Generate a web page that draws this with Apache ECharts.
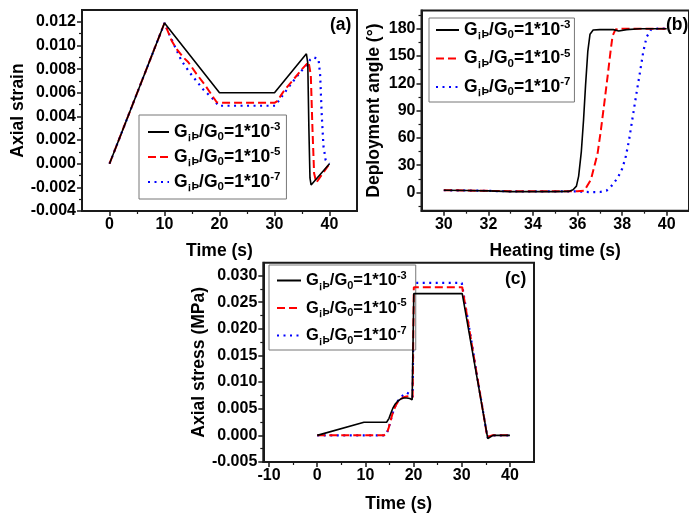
<!DOCTYPE html>
<html><head><meta charset="utf-8">
<script src="https://cdn.jsdelivr.net/npm/echarts@6/dist/echarts.min.js"></script>
<style>html,body{margin:0;padding:0;background:#fff}#c{width:689px;height:514px}</style>
</head><body><div id="c"></div>
<script>
// ---------- Panel (a): Axial strain vs Time ----------
const aT3 = [0, 10, 20, 30, 35.8, 36.05, 36.25, 36.45, 36.65, 40];
const aS3 = [0, 0.0119, 0.0060, 0.0060, 0.0093, 0.0085, 0.0030, -0.0012, -0.0018, 0.0000];
const aT5 = [0, 10, 11.3, 12.2, 13.4, 14.3, 15.8, 17.3, 18.9, 19.5, 20, 30, 30.5, 31.2, 31.7, 33.5, 35, 36.2, 36.4, 36.6, 36.9, 37.2, 37.6, 40];
const aS5 = [0, 0.0119, 0.0104, 0.0097, 0.0090, 0.0086, 0.0076, 0.0067, 0.0056, 0.0052, 0.00515, 0.00515, 0.0053, 0.0058, 0.00615, 0.00715, 0.0080, 0.0086, 0.0086, 0.0075, 0.0030, -0.0008, -0.0016, 0.0000];
const aT7 = [0, 10, 10.6, 11.3, 13.1, 14.6, 17.0, 19.2, 19.8, 30.1, 32.3, 34.1, 35.9, 36.5, 37.1, 38.0, 38.3, 38.6, 38.9, 39.3, 40];
const aS7 = [0, 0.0119, 0.0112, 0.0105, 0.0087, 0.0077, 0.0063, 0.0053, 0.0049, 0.0049, 0.0063, 0.0074, 0.0084, 0.0088, 0.0090, 0.00885, 0.0075, 0.0040, 0.0015, 0.0003, 0.0000];
const aXTicks = [0, 10, 20, 30, 40];
const aXMinor = [5, 15, 25, 35];
const aYTicks = [-0.004, -0.002, 0, 0.002, 0.004, 0.006, 0.008, 0.010, 0.012];
const aYMinor = [-0.003, -0.001, 0.001, 0.003, 0.005, 0.007, 0.009, 0.011];

// ---------- Panel (b): Deployment angle vs Heating time ----------
const bT3 = [30, 31, 32, 33, 34, 35, 35.6, 35.8, 35.95, 36.05, 36.17, 36.27, 36.36, 36.46, 36.56, 36.7, 37.0, 37.6, 37.85, 38.2, 38.8, 40];
const bA3 = [2.5, 2.2, 1.8, 1.0, 1.0, 1.0, 1.2, 3, 7, 18, 45, 80, 118, 155, 174, 178.5, 179, 179, 177.5, 179, 180, 180];
const bT5 = [30, 31, 32, 33, 34, 35, 36.0, 36.3, 36.6, 36.9, 37.05, 37.2, 37.35, 37.47, 37.57, 37.7, 38.0, 40];
const bA5 = [2.5, 2.2, 1.8, 1.5, 1.5, 1.5, 1.5, 2, 14, 43, 69, 98, 128, 153, 172, 179, 180, 180];
const bT7 = [30, 31, 32, 33, 34, 35, 36, 36.5, 37.0, 37.3, 37.5, 37.8, 38.0, 38.15, 38.3, 38.5, 38.65, 38.8, 38.95, 39.1, 39.3, 39.6, 40];
const bA7 = [2.5, 2.2, 1.8, 1.2, 1.2, 1.2, 1.2, 0.5, 0.5, 2, 6.5, 16, 26, 38, 56, 87, 110, 132, 155, 171, 179, 180, 180];
const bXTicks = [30, 32, 34, 36, 38, 40];
const bXMinor = [31, 33, 35, 37, 39];
const bYTicks = [0, 30, 60, 90, 120, 150, 180];
const bYMinor = [-15, 15, 45, 75, 105, 135, 165, 195];

// ---------- Panel (c): Axial stress vs Time ----------
const cT3 = [0, 9.7, 14.4, 14.9, 15.3, 15.7, 16.2, 16.7, 17.3, 17.9, 18.6, 19.2, 19.7, 20.0, 20.05, 30.1, 35.4, 35.8, 36.5, 40];
const cS3 = [0, 0.00246, 0.00246, 0.0032, 0.0042, 0.0051, 0.0059, 0.0064, 0.0068, 0.0070, 0.0070, 0.0069, 0.0067, 0.0064, 0.0266, 0.0266, -0.0006, -0.0004, 0.0000, 0.0000];
const cT5 = [0, 13.8, 14.4, 14.8, 15.2, 15.5, 15.9, 16.3, 16.7, 17.2, 17.8, 18.5, 19.2, 19.8, 20.0, 20.05, 30.1, 35.3, 35.6, 36.3, 40];
const cS5 = [0, 0, 0.0003, 0.0013, 0.0026, 0.0037, 0.0048, 0.0056, 0.0062, 0.0067, 0.0071, 0.0073, 0.0074, 0.0071, 0.0070, 0.0278, 0.0278, -0.0003, -0.0005, 0.0000, 0.0000];
const cT7 = [0, 13.8, 14.4, 14.8, 15.2, 15.5, 15.9, 16.3, 16.7, 17.2, 17.8, 18.6, 19.2, 19.8, 20.0, 20.05, 30.0, 35.3, 35.6, 36.3, 40];
const cS7 = [0, 0, 0.0003, 0.0013, 0.0026, 0.0037, 0.0048, 0.0057, 0.0064, 0.0070, 0.0075, 0.0080, 0.0077, 0.0072, 0.0070, 0.0286, 0.0286, -0.0003, -0.0005, 0.0000, 0.0000];
const cXTicks = [-10, 0, 10, 20, 30, 40];
const cXMinor = [-5, 5, 15, 25, 35];
const cYTicks = [-0.005, 0, 0.005, 0.010, 0.015, 0.020, 0.025, 0.030];
const cYMinor = [-0.0025, 0.0025, 0.0075, 0.0125, 0.0175, 0.0225, 0.0275];

const legendExp = ['-3', '-5', '-7'];

// ---------- Styles ----------
const FONT = "'Liberation Sans', Arial, sans-serif";
const AX = '#1a1a1a';
const styles = [
  {color: '#000000', width: 1.6, type: 'solid'},
  {color: '#ff0000', width: 2, type: [8, 4]},
  {color: '#0000ff', width: 2.2, type: [2, 4.5]}
];

function axes(dim, gi, min, max, ticks, minor, fmt, name, gap) {
  const pos = dim === 'x' ? 'bottom' : 'left';
  const main = {
    type: 'value', gridIndex: gi, min: min, max: max, position: pos, offset: 0,
    axisLine: {show: true, onZero: false, lineStyle: {color: AX, width: 2}},
    axisTick: {show: true, inside: false, length: 5, lineStyle: {color: AX, width: 1.5}, customValues: ticks},
    axisLabel: {show: true, customValues: ticks, formatter: fmt, color: '#000', fontSize: 16,
      fontWeight: 'bold', fontFamily: FONT, margin: 6},
    splitLine: {show: false},
    name: name, nameLocation: 'middle', nameGap: gap,
    nameTextStyle: {fontSize: 17.5, fontWeight: 'bold', fontFamily: FONT, color: '#000'}
  };
  const mn = {
    type: 'value', gridIndex: gi, min: min, max: max, position: pos, offset: 0,
    axisLine: {show: false, onZero: false},
    axisTick: {show: true, inside: false, length: 3, lineStyle: {color: AX, width: 1.2}, customValues: minor},
    axisLabel: {show: false, customValues: minor},
    splitLine: {show: false}
  };
  return [main, mn];
}

const f3 = v => Number(v).toFixed(3);
const f0 = v => String(Math.round(v));

const xAxis = [
  ...axes('x', 0, -5, 45, aXTicks, aXMinor, f0, 'Time (s)', 31),
  ...axes('x', 1, 29, 41, bXTicks, bXMinor, f0, 'Heating time (s)', 31),
  ...axes('x', 2, -11.2, 45, cXTicks, cXMinor, f0, 'Time (s)', 33)
];
const yAxis = [
  ...axes('y', 0, -0.004, 0.013, aYTicks, aYMinor, f3, 'Axial strain', 50),
  ...axes('y', 1, -20, 200, bYTicks, bYMinor, f0, 'Deployment angle (°)', 38),
  ...axes('y', 2, -0.005, 0.0324, cYTicks, cYMinor, f3, 'Axial stress (MPa)', 55)
];

const grid = [
  {left: 82, top: 10, width: 275, height: 201},
  {left: 421.5, top: 10.5, width: 271, height: 200.2},
  {left: 263.3, top: 262.7, width: 270.7, height: 202.3}
].map(g => Object.assign(g, {show: true, borderColor: AX, borderWidth: 2, backgroundColor: 'transparent', containLabel: false}));

function mk(name, xs, ys, gi, k) {
  return {
    type: 'line', name: name, xAxisIndex: gi * 2, yAxisIndex: gi * 2,
    data: xs.map((x, i) => [x, ys[i]]), symbol: 'none', showSymbol: false,
    lineStyle: styles[k], itemStyle: {color: styles[k].color},
    animation: false, z: 5 - k
  };
}
const series = [
  mk('a3', aT3, aS3, 0, 0), mk('a5', aT5, aS5, 0, 1), mk('a7', aT7, aS7, 0, 2),
  mk('b3', bT3, bA3, 1, 0), mk('b5', bT5, bA5, 1, 1), mk('b7', bT7, bA7, 1, 2),
  mk('c3', cT3, cS3, 2, 0), mk('c5', cT5, cS5, 2, 1), mk('c7', cT7, cS7, 2, 2)
];

function makeRich(big, small) {
  return {
    g: {fontSize: big, fontWeight: 'bold', fontFamily: FONT, color: '#000', lineHeight: 22},
    s: {fontSize: small, fontWeight: 'bold', fontFamily: FONT, color: '#000', lineHeight: 12, padding: [10, 0, 0, 0]},
    p: {fontSize: small, fontWeight: 'bold', fontFamily: FONT, color: '#000', lineHeight: 12, padding: [0, 1, 10, 0]}
  };
}
function legendFmt(name) {
  const e = legendExp[['3', '5', '7'].indexOf(name.slice(1))];
  return '{g|G}{s|¡Þ}{g|/G}{s|0}{g|=1*10}{p|' + e + '}';
}
function mkLegend(prefix, left, top, iw, gap, pad, big, small) {
  return {
    show: true, orient: 'vertical', left: left, top: top, selectedMode: false,
    data: [prefix + '3', prefix + '5', prefix + '7'],
    itemWidth: iw, itemHeight: 14, itemGap: gap, padding: pad,
    borderColor: '#777', borderWidth: 1, backgroundColor: '#fff',
    itemStyle: {color: 'transparent', borderWidth: 0, opacity: 0},
    textStyle: {rich: makeRich(big, small), fontFamily: FONT},
    formatter: legendFmt
  };
}
const legend = [
  mkLegend('a', 139, 115, 21, 3, [6, 5, 6, 8], 17.5, 11.5),
  mkLegend('b', 429, 18, 23, 6.5, [1, 3, 4, 6], 17.5, 11.5),
  mkLegend('c', 269, 265, 24, 6.5, [5, 8, 4, 7], 16.5, 11)
];

const panelText = (t, x, y) => ({
  type: 'text', left: x, top: y,
  style: {text: t, font: 'bold 17.5px ' + FONT, fill: '#000'}
});
const graphic = [
  panelText('(a)', 330, 16),
  panelText('(b)', 666, 16),
  panelText('(c)', 505, 270)
];

const chart = echarts.init(document.getElementById('c'), null, {renderer: 'canvas'});
chart.setOption({
  animation: false, backgroundColor: '#fff',
  grid: grid, xAxis: xAxis, yAxis: yAxis, legend: legend, series: series, graphic: graphic
});
</script></body></html>
